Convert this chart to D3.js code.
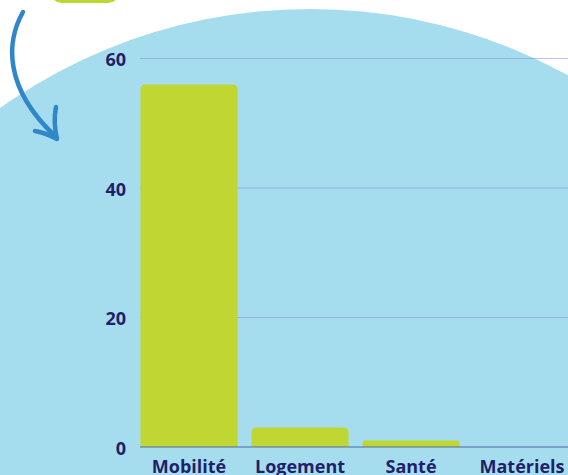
<!DOCTYPE html>
<html>
<head>
<meta charset="utf-8">
<script src="https://cdn.jsdelivr.net/npm/d3@7"></script>
<style>
  html, body { margin: 0; padding: 0; background: #fff; overflow: hidden; }
  text { font-family: "Open Sans", "Noto Sans", sans-serif; font-weight: 700; }
</style>
</head>
<body>
<div id="chart-container"></div>
<script>
const categories = ["Mobilité", "Logement", "Santé", "Matériels"];
const values = [56, 3, 1, 0];
const yTicks = [0, 20, 40, 60];

(() => {
  const width = 568;
  const height = 475;
  const navy = "#1f1f6b";

  const svg = d3.create("svg")
    .attr("width", width)
    .attr("height", height)
    .attr("viewBox", [0, 0, width, height]);

  // big light blue circle in the background
  svg.append("circle")
    .attr("cx", 310)
    .attr("cy", 544)
    .attr("r", 535)
    .attr("fill", "#a6ddee");

  // green badge cut off at the top
  svg.append("rect")
    .attr("x", 50).attr("y", -24)
    .attr("width", 70).attr("height", 27)
    .attr("rx", 12)
    .attr("fill", "#bfd632");

  // curved arrow
  svg.append("path")
    .attr("d", "M23,12 C6,42 4,88 55,136")
    .attr("fill", "none")
    .attr("stroke", "#2f86c9")
    .attr("stroke-width", 4.5)
    .attr("stroke-linecap", "round");
  svg.append("path")
    .attr("d", "M35,131 Q46,133 57,139 Q53,122 56,107")
    .attr("fill", "none")
    .attr("stroke", "#2f86c9")
    .attr("stroke-width", 4.5)
    .attr("stroke-linecap", "round")
    .attr("stroke-linejoin", "round");

  const x = d3.scaleBand()
    .domain(categories)
    .range([133.5, 577.5])
    .paddingInner(0.125)
    .paddingOuter(0.0625);

  const y = d3.scaleLinear()
    .domain([0, 60])
    .range([447, 58.5]);

  // gridlines
  svg.append("g")
    .selectAll("line")
    .data(yTicks.filter(d => d !== 0))
    .join("line")
    .attr("x1", 140).attr("x2", width)
    .attr("y1", d => y(d)).attr("y2", d => y(d))
    .attr("stroke", "#6f86cc")
    .attr("stroke-opacity", 0.45)
    .attr("stroke-width", 1);

  // bars with rounded top corners
  const r = 5;
  svg.append("g")
    .attr("fill", "#bfd633")
    .selectAll("path")
    .data(categories.map((c, i) => ({c, v: values[i]})).filter(d => d.v > 0))
    .join("path")
    .attr("d", d => {
      const x0 = x(d.c), x1 = x0 + x.bandwidth();
      const y0 = y(0), y1 = y(d.v);
      const rr = Math.min(r, (y0 - y1) / 2);
      return `M${x0},${y0} V${y1 + rr} Q${x0},${y1} ${x0 + rr},${y1} H${x1 - rr} Q${x1},${y1} ${x1},${y1 + rr} V${y0} Z`;
    });

  // baseline
  svg.append("line")
    .attr("x1", 140).attr("x2", width)
    .attr("y1", y(0)).attr("y2", y(0))
    .attr("stroke", "#4d6aa6")
    .attr("stroke-width", 1.2);

  // y axis labels
  const yAxis = svg.append("g")
    .attr("transform", "translate(126,0)")
    .call(d3.axisLeft(y).tickValues(yTicks).tickSize(0).tickPadding(0));
  yAxis.select(".domain").remove();
  yAxis.selectAll("text")
    .attr("fill", navy)
    .style("font-size", "18px")
    .style("font-family", "'Open Sans', sans-serif")
    .style("font-weight", "700")
    .attr("dy", "0.4em");

  // x axis labels
  const xAxis = svg.append("g")
    .attr("transform", `translate(0,${y(0)})`)
    .call(d3.axisBottom(x).tickSize(0).tickPadding(13));
  xAxis.select(".domain").remove();
  xAxis.selectAll("text")
    .attr("fill", navy)
    .style("font-size", "18px")
    .style("font-family", "'Open Sans', sans-serif")
    .style("font-weight", "700");

  d3.select("#chart-container").append(() => svg.node());
})();
</script>
</body>
</html>
